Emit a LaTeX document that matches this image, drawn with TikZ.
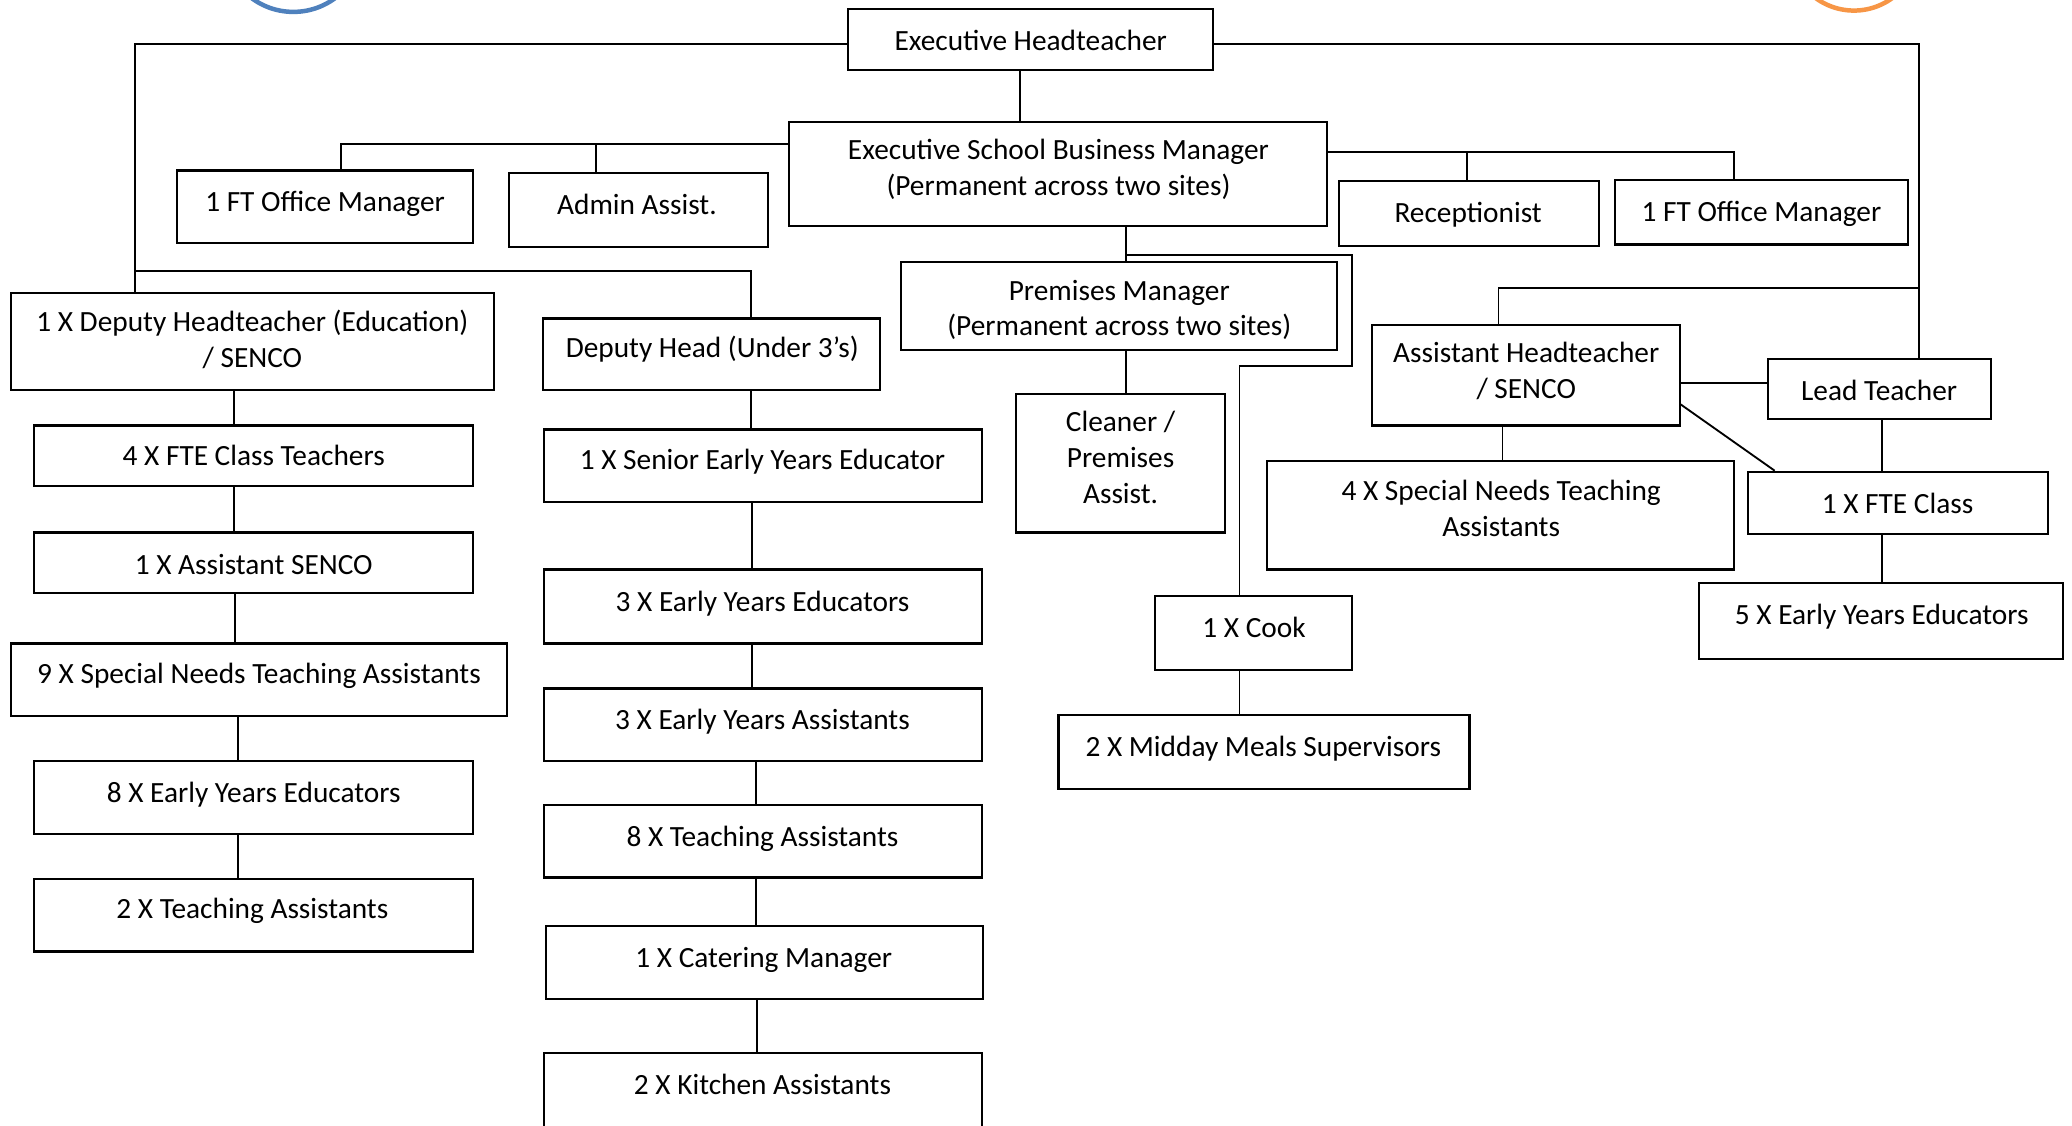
\documentclass[tikz,border=0pt]{standalone}
\usepackage{fontspec}
\setmainfont{Carlito}
\usetikzlibrary{fit}
\newcommand\obox[8]{%
  \node[box, fit={(#2,#3) (#4,#5)}] (#1) {};
  \node[txt] (#1-t) at (#6,#7) {#8};
}
\tikzset{
  box/.style={draw=black, line width=1.6pt, inner sep=0pt},
  txt/.style={align=center, inner sep=0pt, yshift=-3pt, font=\fontsize{22.2}{27}\selectfont,
    execute at begin node=\strut, execute at end node=\strut},
  conn/.style={draw=black, line width=1.4pt},
  ring/.style={line width=3.4pt}
}
\definecolor{ringblue}{HTML}{4F81BD}
\definecolor{ringorange}{HTML}{F79646}
\begin{document}
\begin{tikzpicture}[x=1pt,y=-1pt]
\useasboundingbox (0,0) rectangle (1568,852);
\clip (0,0) rectangle (1568,852);
\fill[white] (0,0) rectangle (1568,852);
\draw[ring, draw=ringblue] (222,-44) circle[radius=53];
\draw[ring, draw=ringorange] (1403,-41) circle[radius=49];

\obox{eht}{642}{7}{918}{53}{780}{30}{Executive Headteacher}
\obox{esbm}{597}{92}{1004}{171}{801}{127.5}{Executive School Business Manager\\(Permanent across two sites)}
\obox{ofm1}{134}{129}{358}{184}{246}{152}{1 FT Office Manager}
\obox{adm}{385}{131}{581}{187}{482}{154}{Admin Assist.}
\obox{rec}{1013}{137}{1210}{186}{1111}{160}{Receptionist}
\obox{ofm2}{1222}{136}{1444}{185}{1333}{159}{1 FT Office Manager}
\obox{dht}{8}{222}{374}{295}{191}{257.5}{1 X Deputy Headteacher (Education)\\/ SENCO}
\obox{dhu}{411}{241}{666}{295}{539}{262}{Deputy Head (Under 3’s)}
\obox{pm}{682}{198}{1012}{265}{847}{234}{Premises Manager\\(Permanent across two sites)}
\obox{cln}{769}{298}{927}{403}{848}{347}{Cleaner /\\Premises\\Assist.}
\obox{aht}{1038}{246}{1271}{322}{1155}{281.5}{Assistant Headteacher\\/ SENCO}
\obox{lt}{1338}{272}{1507}{317}{1422}{295}{Lead Teacher}
\obox{ct}{26}{322}{358}{368}{192}{344}{4 X FTE Class Teachers}
\obox{seye}{412}{325}{743}{380}{577}{347}{1 X Senior Early Years Educator}
\obox{snta4}{959}{349}{1312}{431}{1136}{385.5}{4 X Special Needs Teaching\\Assistants}
\obox{fte}{1323}{357}{1550}{404}{1436}{380}{1 X FTE Class}
\obox{asenco}{26}{403}{358}{449}{192}{426}{1 X Assistant SENCO}
\obox{eye3}{412}{431}{743}{487}{577}{454}{3 X Early Years Educators}
\obox{cook}{874}{451}{1023}{507}{949}{474}{1 X Cook}
\obox{eye5}{1286}{441}{1561}{499}{1424}{464}{5 X Early Years Educators}
\obox{snta9}{8}{487}{384}{542}{196}{509}{9 X Special Needs Teaching Assistants}
\obox{eya3}{412}{521}{743}{576}{577}{544}{3 X Early Years Assistants}
\obox{mms}{801}{541}{1112}{597}{956}{564}{2 X Midday Meals Supervisors}
\obox{eye8}{26}{576}{358}{631}{192}{599}{8 X Early Years Educators}
\obox{ta8}{412}{609}{743}{664}{577}{632}{8 X Teaching Assistants}
\obox{ta2}{26}{665}{358}{720}{191}{687}{2 X Teaching Assistants}
\obox{cat}{413}{701}{744}{756}{578}{724}{1 X Catering Manager}
\obox{kit}{412}{797}{743}{870}{577}{820}{2 X Kitchen Assistants}

% junction coordinates
\coordinate (j1) at (102,33);
\coordinate (j3) at (568,205);
\coordinate (j4) at (1452,33);
\coordinate (j5) at (1134,218);
\coordinate (x772) at (772,70);
\coordinate (j7) at (258,109);
\coordinate (j8) at (451,109);
\coordinate (j9) at (1312,115);
\coordinate (j10) at (1110,115);
\coordinate (x852) at (852,180);
\coordinate (j11) at (852,193);
\coordinate (j12) at (1023,193);
\coordinate (j13) at (1023,277);
\coordinate (j14) at (938,277);
\coordinate (j15) at (1300,290);
\coordinate (j16) at (1271,306);
\coordinate (j17) at (1343,357);
\coordinate (x1137) at (1137,330);
\coordinate (x1424) at (1424,330);
\coordinate (x177) at (177,300);
\coordinate (x178) at (178,460);
\coordinate (x180) at (180,560);
\coordinate (x568) at (568,300);
\coordinate (x569) at (569,400);
\coordinate (x572) at (572,600);
\coordinate (x573) at (573,770);

\begin{scope}[conn]
\draw (eht.west |- j1) -- (j1) -- (j1 |- dht.north);
\draw (j1 |- j3) -- (j3) -- (j3 |- dhu.north);
\draw (eht.east |- j4) -- (j4) -- (j4 |- lt.north);
\draw (j4 |- j5) -- (j5) -- (j5 |- aht.north);
\draw (x772 |- eht.south) -- (x772 |- esbm.north);
\draw (esbm.west |- j7) -- (j7) -- (j7 |- ofm1.north);
\draw (j8) -- (j8 |- adm.north);
\draw (esbm.east |- j9) -- (j9) -- (j9 |- ofm2.north);
\draw (j10) -- (j10 |- rec.north);
\draw (x852 |- esbm.south) -- (x852 |- pm.north);
\draw (j11) -- (j12) -- (j13) -- (j14) -- (j14 |- cook.north);
\draw (x852 |- pm.south) -- (x852 |- cln.north);
\draw (aht.east |- j15) -- (lt.west |- j15);
\draw (aht.east |- j16) -- (j17 |- fte.north);
\draw (x1137 |- aht.south) -- (x1137 |- snta4.north);
\draw (x1424 |- lt.south) -- (x1424 |- fte.north);
\draw (x1424 |- fte.south) -- (x1424 |- eye5.north);
\draw (j14 |- cook.south) -- (j14 |- mms.north);
\draw (x177 |- dht.south) -- (x177 |- ct.north);
\draw (x177 |- ct.south) -- (x177 |- asenco.north);
\draw (x178 |- asenco.south) -- (x178 |- snta9.north);
\draw (x180 |- snta9.south) -- (x180 |- eye8.north);
\draw (x180 |- eye8.south) -- (x180 |- ta2.north);
\draw (x568 |- dhu.south) -- (x568 |- seye.north);
\draw (x569 |- seye.south) -- (x569 |- eye3.north);
\draw (x569 |- eye3.south) -- (x569 |- eya3.north);
\draw (x572 |- eya3.south) -- (x572 |- ta8.north);
\draw (x572 |- ta8.south) -- (x572 |- cat.north);
\draw (x573 |- cat.south) -- (x573 |- kit.north);
\end{scope}
\end{tikzpicture}
\end{document}
